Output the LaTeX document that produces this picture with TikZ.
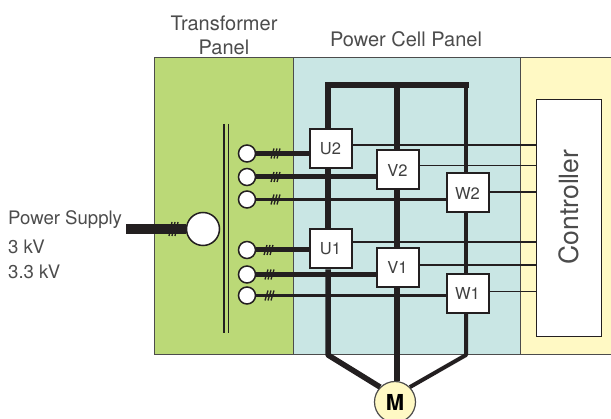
\documentclass[tikz,border=0pt]{standalone}
\usepackage{fontspec}
\setmainfont{TeX Gyre Heros}
\usetikzlibrary{calc}
\definecolor{panelgreen}{HTML}{BBD977}
\definecolor{panelblue}{HTML}{C9E6E4}
\definecolor{panelyellow}{HTML}{FFF9C4}
\definecolor{inkdark}{HTML}{231F20}
\tikzset{
	panel/.style={draw=black!70, line width=0.8pt},
	cellbox/.style={draw=inkdark, fill=white, line width=2pt, minimum width=42pt, minimum height=39pt, inner sep=0pt, font=\fontsize{16.5}{16.5}\selectfont, text=black!75},
	tap/.style={circle, draw=inkdark, fill=white, line width=1.5pt, minimum size=17pt, inner sep=0pt},
	label/.style={font=\fontsize{18.6}{24}\selectfont, text=black!70, inner sep=0pt},
	busline/.style={draw=inkdark, line width=5.5pt},
	feedline/.style={draw=inkdark, line width=5pt},
	signal/.style={draw=inkdark, line width=1.6pt}
}
\def\hashmark(#1,#2,#3){\draw[inkdark, line width=1.3pt] (#1-4,#2+#3) -- (#1-1,#2-#3) (#1-1,#2+#3) -- (#1+2,#2-#3) (#1+2,#2+#3) -- (#1+5,#2-#3);}

\begin{document}
\begin{tikzpicture}[x=1pt, y=-1pt]
	%%%%% PANELS %%%%%
	\useasboundingbox (0, 0) rectangle (611, 419);
	\fill[white] (0, 0) rectangle (611, 419);
	\draw[panel, fill=panelyellow] (520.5, 57.5) rectangle (612, 354.5);
	\draw[panel, fill=panelblue] (293.5, 57.5) rectangle (520.5, 354.5);
	\draw[panel, fill=panelgreen] (154.5, 57.5) rectangle (293.5, 354.5);

	\node[label, align=center, font=\fontsize{20}{24}\selectfont] (transformerlabel) at (224, 35) {Transformer\\Panel};
	\node[label, font=\fontsize{20}{24}\selectfont] (celllabel) at (406, 39) {Power Cell Panel};
	\node[label, anchor=west] (supplylabel) at (8, 220) {Power Supply};
	\node[label, anchor=west] (lowlabel) at (8, 247) {3 kV};
	\node[label, anchor=west] (highlabel) at (8, 272) {3.3 kV};

	%%%%% TRANSFORMER %%%%%
	\draw[inkdark, line width=1.5pt] (224, 124) -- (224, 333);
	\draw[inkdark, line width=0.9pt] (228, 124) -- (228, 333);
	\node[tap, minimum size=33pt] (supply) at (203, 229) {};
	\node[tap] (tapa) at (247, 153.5) {};
	\node[tap] (tapb) at (247, 177) {};
	\node[tap] (tapc) at (247, 199.5) {};
	\node[tap] (tapd) at (247, 250) {};
	\node[tap] (tape) at (247, 274.5) {};
	\node[tap] (tapf) at (247, 295.5) {};
	\coordinate (feedin) at (126, 229);
	\draw[inkdark, line width=10pt] (feedin) -- (supply.west);

	%%%%% CELLS %%%%%
	\node[cellbox] (uu) at (330.5, 149) {U2};
	\node[cellbox] (ul) at (330.5, 249) {U1};
	\node[cellbox] (vu) at (397.5, 170) {V2};
	\node[cellbox] (vl) at (397.5, 267.5) {V1};
	\node[cellbox] (wu) at (467.5, 193) {W2};
	\node[cellbox] (wl) at (467.5, 293.5) {W1};
	\node[draw=inkdark, fill=white, line width=1.8pt, minimum width=65pt, minimum height=237pt, inner sep=0pt] (controller) at (569, 218) {};
	\node[rotate=90, font=\fontsize{26.5}{26.5}\selectfont, text=black!70, inner sep=0pt] (controllerlabel) at (569, 207) {Controller};
	\node[circle, draw=black!70, fill=panelyellow, line width=1.2pt, minimum size=41pt, inner sep=0pt, font=\fontsize{22}{22}\selectfont\bfseries] (motor) at (395, 402) {M};

	%%%%% BUS %%%%%
	\coordinate (topu) at (328, 85);
	\coordinate (topv) at (397, 85);
	\coordinate (topw) at (466, 85);
	\coordinate (botu) at (328, 355);
	\coordinate (botw) at (466, 355);
	\draw[busline, line cap=rect] (topu) -- (topw);
	\draw[busline] (topu) -- (topu |- uu.north);
	\draw[busline] (uu.south -| topu) -- (ul.north -| topu);
	\draw[busline, line join=bevel] (ul.south -| topu) -- (botu) -- (motor.135);
	\draw[busline] (topv) -- (topv |- vu.north);
	\draw[busline] (vu.south -| topv) -- (vl.north -| topv);
	\draw[busline] (vl.south -| topv) -- (motor.north -| topv);
	\draw[busline, line width=4pt] (topw) -- (topw |- wu.north);
	\draw[busline, line width=4pt] (wu.south -| topw) -- (wl.north -| topw);
	\draw[busline, line width=4pt, line join=bevel] (wl.south -| topw) -- (botw) -- (motor.45);

	%%%%% FEEDS %%%%%
	\draw[feedline] (tapa.east) -- (tapa.east -| uu.west);
	\draw[feedline] (tapb.east) -- (tapb.east -| vu.west);
	\draw[feedline, line width=3.5pt] (tapc.east) -- (tapc.east -| wu.west);
	\draw[feedline] (tapd.east) -- (tapd.east -| ul.west);
	\draw[feedline, line width=5.5pt] (tape.east) -- (tape.east -| vl.west);
	\draw[feedline, line width=3.5pt] (tapf.east) -- (tapf.east -| wl.west);
	\hashmark(173,229,7)
	\hashmark(275,153.5,5)
	\hashmark(275,177,5)
	\hashmark(275,199.5,5)
	\hashmark(268,250,5)
	\hashmark(269,274.5,5)
	\hashmark(269,295.5,5)

	%%%%% SIGNALS %%%%%
	\draw[signal] (uu.east |- 0,145) -- (controller.west |- 0,145);
	\draw[signal, line width=0.9pt] (vu.east |- 0,165) -- (controller.west |- 0,165);
	\draw[signal] (wu.east |- 0,192) -- (controller.west |- 0,192);
	\draw[signal] (ul.east |- 0,242) -- (controller.west |- 0,242);
	\draw[signal] (vl.east |- 0,265) -- (controller.west |- 0,265);
	\draw[signal, line width=0.9pt] (wl.east |- 0,291) -- (controller.west |- 0,291);
\end{tikzpicture}
\end{document}
